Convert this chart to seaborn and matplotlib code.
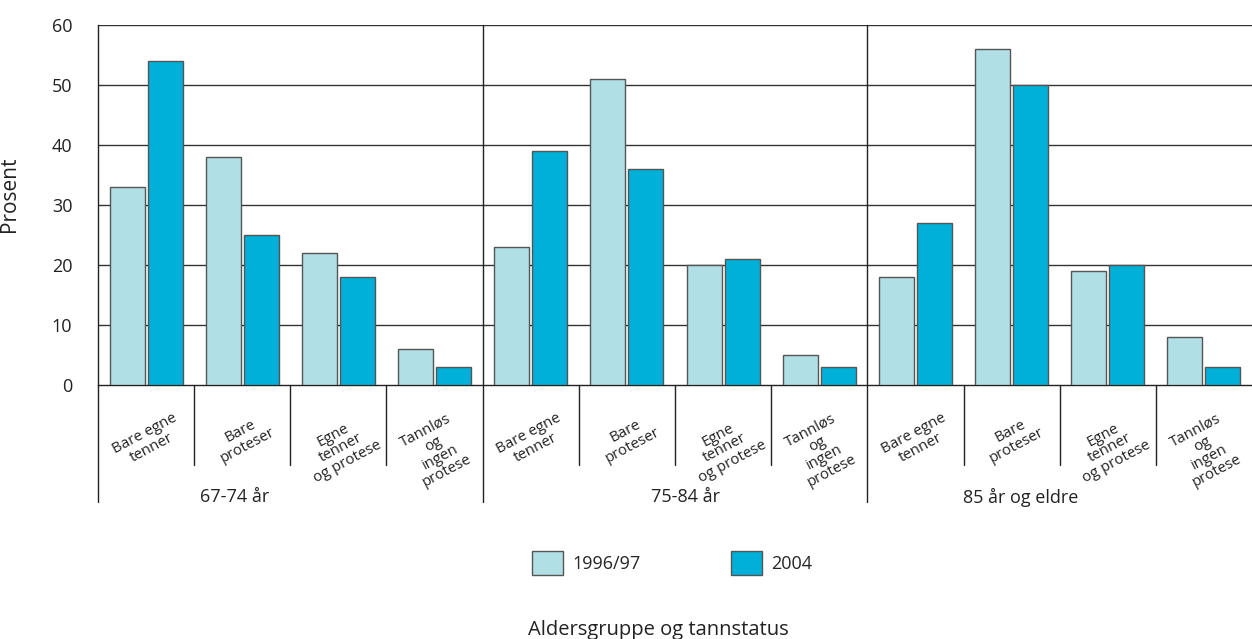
import matplotlib
matplotlib.use("Agg")
import matplotlib.pyplot as plt
import seaborn as sns
import pandas as pd

# Data: share of respondents (%) by age group and dental status
age_groups = ["67-74 år", "75-84 år", "85 år og eldre"]
statuses = ["Bare egne\ntenner", "Bare\nproteser", "Egne\ntenner\nog protese",
            "Tannløs\nog\ningen\nprotese"]
survey_years = ["1996/97", "2004"]
values_1996 = [33, 38, 22, 6, 23, 51, 20, 5, 18, 56, 19, 8]
values_2004 = [54, 25, 18, 3, 39, 36, 21, 3, 27, 50, 20, 3]
y_ticks = [0, 10, 20, 30, 40, 50, 60]
y_label = "Prosent"
x_label = "Aldersgruppe og tannstatus"

colors = {"1996/97": "#B0DFE5", "2004": "#00B0D8"}

cats = [f"{g}|{s}" for g in age_groups for s in statuses]
df = pd.DataFrame({
    "kategori": cats * 2,
    "år": [survey_years[0]] * len(cats) + [survey_years[1]] * len(cats),
    "prosent": values_1996 + values_2004,
})

sns.set_theme(style="white")
plt.rcParams["font.family"] = ["Open Sans", "DejaVu Sans"]

fig = plt.figure(figsize=(12.52, 6.39), dpi=100)
W, H = 1252, 639
ax = fig.add_axes([98 / W, 1 - 385 / H, (1252 - 98) / W, 360 / H])

sns.barplot(data=df, x="kategori", y="prosent", hue="år", order=cats,
            hue_order=survey_years, palette=colors, saturation=1,
            width=0.79, gap=0.08, edgecolor="#555555", linewidth=1.0,
            ax=ax, legend=True, zorder=3)

ax.set_xlim(-0.5, len(cats) - 0.5)
ax.set_ylim(0, 60)
ax.set_yticks(y_ticks)
ax.tick_params(axis="y", length=0, pad=18.5, labelsize=13, labelcolor="#222222")
ax.set_xticks([])
ax.set_xlabel("")
ax.set_ylabel(y_label, fontsize=15, color="#222222")
ax.yaxis.set_label_coords(-78 / 1154, 0.53)

for v in y_ticks[1:]:
    ax.axhline(v, color="#333333", lw=1.0, zorder=1)

for side in ["top", "right"]:
    ax.spines[side].set_visible(False)
for side in ["left", "bottom"]:
    ax.spines[side].set_color("#222222")
    ax.spines[side].set_linewidth(1.0)

xt = ax.get_xaxis_transform()
n_stat = len(statuses)
# separators between categories and between age groups
for i in range(len(cats)):
    x = i - 0.5
    if i % n_stat == 0:
        top = 1.0 if i > 0 else 0.0
        ax.plot([x, x], [top, -117 / 360], transform=xt, color="#222222",
                lw=1.0, clip_on=False, zorder=4)
    else:
        ax.plot([x, x], [0, -80 / 360], transform=xt, color="#222222",
                lw=1.0, clip_on=False, zorder=4)

# category labels
for i, c in enumerate(cats):
    s = c.split("|")[1]
    ax.text(i + 0.02, -26 / 360, s, transform=xt, rotation=28, ha="center",
            va="top", fontsize=10.8, color="#222222", linespacing=1.0)

# age group labels
group_pos = [0.92, 5.61, 9.09]
for g, x in zip(age_groups, group_pos):
    ax.text(x, -112 / 360, g, transform=xt, ha="center", va="center",
            fontsize=13, color="#222222")

# legend
handles, labels = ax.get_legend_handles_labels()
ax.legend_.remove()
fig.legend(handles, labels, loc="center", bbox_to_anchor=(672 / W, 1 - 563 / H),
           ncol=2, frameon=False, fontsize=13, handlelength=1.75,
           handleheight=1.6, handletextpad=0.5, columnspacing=5.0)

fig.text(658 / W, 1 - 630 / H, x_label, ha="center", va="center",
         fontsize=14.5, color="#222222")

fig.savefig("out.png", dpi=100)
